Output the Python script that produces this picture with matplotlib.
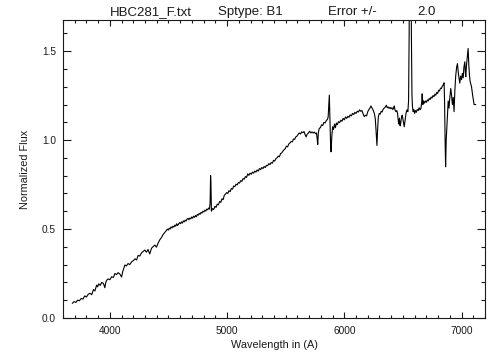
import numpy as np
import matplotlib
matplotlib.use('Agg')
import matplotlib.pyplot as plt
from matplotlib.ticker import MultipleLocator

# spectrum (wavelength in A, normalized flux)
wave = [3680, 3695, 3710, 3725, 3740, 3755, 3770, 3785, 3800, 3815, 3830, 3845,
        3860, 3872, 3887, 3895, 3905, 3918, 3930, 3945, 3957, 3965, 3975, 3986,
        4000, 4015, 4030, 4043, 4057, 4070, 4085, 4100, 4110, 4128, 4140, 4155,
        4170, 4185, 4200, 4215, 4228, 4241, 4255, 4270, 4285, 4298, 4312, 4325,
        4340, 4355, 4370, 4383, 4397, 4412, 4426, 4440, 4455, 4470,
        4482, 4490, 4498, 4506, 4514, 4522, 4530, 4538, 4546, 4554, 4562, 4570,
        4578, 4586, 4594, 4602, 4610, 4618, 4626, 4634, 4642, 4650, 4658, 4666,
        4674, 4682, 4690, 4698, 4706, 4714, 4722, 4730, 4738, 4746, 4754, 4762,
        4770, 4778, 4786, 4794, 4802, 4810, 4818, 4826, 4834, 4842, 4850, 4855,
        4859, 4862, 4866, 4876, 4886, 4896, 4906, 4916, 4926, 4936, 4946, 4956,
        4966, 4976, 4986, 4996, 5006, 5016, 5026, 5036, 5046, 5056, 5066, 5076,
        5086, 5096, 5106, 5116, 5126, 5136, 5146, 5156, 5166, 5176, 5186, 5196,
        5206, 5216, 5226, 5236, 5246, 5256, 5266, 5276, 5286, 5296, 5306, 5316,
        5326, 5336, 5346, 5356, 5366, 5376, 5386, 5396, 5406, 5416, 5426, 5436,
        5446, 5456, 5466, 5476, 5486, 5496, 5506, 5516, 5526, 5536, 5546, 5556,
        5566, 5576, 5586, 5596, 5606, 5616, 5626, 5636, 5646, 5656, 5666, 5674,
        5684, 5694, 5704, 5714, 5724, 5734, 5744, 5754, 5762, 5768, 5773, 5778,
        5786, 5796, 5806, 5816, 5826, 5836, 5846, 5856, 5862, 5868, 5872, 5877,
        5882, 5887, 5893, 5900, 5908, 5916, 5924, 5932, 5940, 5950, 5960, 5970,
        5980, 5990, 6000, 6010, 6020, 6030, 6040, 6050, 6060, 6070, 6080, 6090,
        6100, 6110, 6120, 6130, 6140, 6150, 6160, 6170, 6180, 6190, 6200, 6210,
        6220, 6227, 6236, 6246, 6256, 6264, 6270, 6278, 6284, 6290, 6298, 6306,
        6314, 6322, 6330, 6340, 6350, 6358, 6366, 6374, 6382, 6390, 6398, 6406,
        6414, 6420, 6426, 6432, 6440, 6448, 6454, 6460, 6465, 6470, 6476, 6482,
        6488, 6494, 6500, 6506, 6511, 6518, 6526, 6534, 6542, 6548, 6553, 6557,
        6567, 6572, 6577, 6581, 6587, 6593, 6600, 6606, 6614, 6622, 6630, 6638,
        6646, 6654, 6660, 6664, 6670, 6676, 6684, 6692, 6700, 6708, 6716, 6724,
        6732, 6740, 6748, 6756, 6764, 6772, 6780, 6788, 6796, 6804, 6812, 6820,
        6828, 6836, 6844, 6851, 6855, 6860, 6864, 6869, 6879, 6886, 6893, 6900,
        6908, 6915, 6922, 6929, 6936, 6943, 6950, 6958, 6965, 6972, 6978, 6985,
        6992, 7000, 7007, 7014, 7020, 7028, 7032, 7036, 7042, 7048, 7056, 7062,
        7068, 7073, 7085, 7095, 7107, 7120]
flux = [0.083, 0.092, 0.088, 0.100, 0.097, 0.110, 0.106, 0.124, 0.118, 0.133, 0.139, 0.131,
        0.160, 0.152, 0.185, 0.175, 0.192, 0.183, 0.200, 0.194, 0.170, 0.200, 0.214, 0.220,
        0.215, 0.232, 0.228, 0.250, 0.244, 0.255, 0.247, 0.230, 0.262, 0.298, 0.292, 0.306,
        0.300, 0.316, 0.322, 0.333, 0.326, 0.352, 0.348, 0.366, 0.375, 0.382, 0.370, 0.385,
        0.360, 0.392, 0.402, 0.410, 0.398, 0.422, 0.440, 0.452, 0.470, 0.482,
        0.492, 0.500, 0.494, 0.505, 0.500, 0.512, 0.506, 0.516, 0.511, 0.522, 0.516, 0.530,
        0.520, 0.528, 0.536, 0.530, 0.540, 0.533, 0.546, 0.540, 0.550, 0.545, 0.556, 0.560,
        0.552, 0.562, 0.557, 0.568, 0.561, 0.572, 0.566, 0.576, 0.569, 0.582, 0.578, 0.588,
        0.583, 0.594, 0.590, 0.600, 0.596, 0.606, 0.601, 0.612, 0.608, 0.618, 0.612, 0.650,
        0.800, 0.760, 0.600, 0.615, 0.610, 0.628, 0.622, 0.640, 0.636, 0.655, 0.650, 0.670,
        0.665, 0.690, 0.696, 0.705, 0.700, 0.716, 0.710, 0.728, 0.724, 0.742, 0.738, 0.752,
        0.748, 0.762, 0.758, 0.772, 0.768, 0.784, 0.780, 0.795, 0.790, 0.810, 0.802, 0.814,
        0.808, 0.820, 0.814, 0.826, 0.820, 0.832, 0.826, 0.840, 0.834, 0.846, 0.840, 0.852,
        0.846, 0.858, 0.856, 0.868, 0.862, 0.874, 0.870, 0.886, 0.882, 0.896, 0.900, 0.910,
        0.906, 0.924, 0.928, 0.938, 0.946, 0.952, 0.966, 0.962, 0.978, 0.984, 0.992, 0.990,
        1.006, 1.004, 1.018, 1.022, 1.032, 1.040, 1.034, 1.046, 1.042, 1.048, 1.030, 1.018,
        1.034, 1.040, 1.050, 1.040, 1.046, 1.040, 1.045, 1.036, 1.040, 1.010, 0.975, 1.040,
        1.066, 1.070, 1.086, 1.082, 1.100, 1.096, 1.110, 1.116, 1.130, 1.210, 1.253, 1.120,
        0.990, 0.934, 1.020, 1.075, 1.060, 1.090, 1.070, 1.096, 1.086, 1.104, 1.098, 1.112,
        1.106, 1.122, 1.114, 1.130, 1.122, 1.134, 1.128, 1.142, 1.136, 1.150, 1.144, 1.156,
        1.150, 1.162, 1.158, 1.170, 1.162, 1.166, 1.148, 1.132, 1.140, 1.136, 1.160, 1.172,
        1.182, 1.192, 1.180, 1.168, 1.150, 1.120, 1.060, 0.970, 1.060, 1.130, 1.150, 1.146,
        1.162, 1.158, 1.172, 1.180, 1.186, 1.196, 1.182, 1.186, 1.178, 1.184, 1.176, 1.182,
        1.172, 1.180, 1.192, 1.170, 1.160, 1.166, 1.150, 1.110, 1.090, 1.124, 1.080, 1.100,
        1.130, 1.140, 1.116, 1.090, 1.075, 1.110, 1.150, 1.170, 1.160, 1.220, 1.600, 2.300,
        2.300, 1.600, 1.250, 1.190, 1.160, 1.172, 1.150, 1.166, 1.156, 1.172, 1.166, 1.182,
        1.170, 1.180, 1.215, 1.260, 1.200, 1.220, 1.208, 1.220, 1.212, 1.226, 1.220, 1.234,
        1.228, 1.242, 1.236, 1.250, 1.244, 1.258, 1.252, 1.268, 1.262, 1.280, 1.276, 1.292,
        1.290, 1.304, 1.310, 1.322, 1.220, 0.980, 0.850, 1.000, 1.130, 1.220, 1.180, 1.240,
        1.290, 1.250, 1.200, 1.240, 1.160, 1.280, 1.360, 1.410, 1.430, 1.380, 1.350, 1.320,
        1.360, 1.340, 1.375, 1.350, 1.410, 1.440, 1.380, 1.356, 1.420, 1.460, 1.515, 1.420,
        1.360, 1.330, 1.300, 1.250, 1.200, 1.200]

plt.rcParams['font.family'] = ['Liberation Sans', 'DejaVu Sans']
ink = '#1a1a1a'

fig = plt.figure(figsize=(5.04, 3.6), dpi=100)
ax = fig.add_axes([0.125, 0.1167, 0.8373, 0.8277])
ax.plot(wave, flux, color='black', lw=0.8)

ax.set_xlim(3600, 7200)
ax.set_ylim(0, 1.675)
ax.xaxis.set_major_locator(MultipleLocator(1000))
ax.xaxis.set_minor_locator(MultipleLocator(100))
ax.yaxis.set_major_locator(MultipleLocator(0.5))
ax.yaxis.set_minor_locator(MultipleLocator(0.1))
ax.yaxis.set_major_formatter(lambda v, p: '%.1f' % v)

ax.tick_params(axis='both', which='both', direction='in', top=True, right=True,
               color=ink, width=0.8, labelsize=7.3, labelcolor=ink)
ax.tick_params(axis='x', which='major', length=4.3, pad=6)
ax.tick_params(axis='x', which='minor', length=2.2)
ax.tick_params(axis='y', which='major', length=6, pad=5)
ax.tick_params(axis='y', which='minor', length=3)
for s in ax.spines.values():
    s.set_color(ink)
    s.set_linewidth(0.8)

ax.set_xlabel('Wavelength in (A)', fontsize=7.8, color=ink, labelpad=3)
ax.set_ylabel('Normalized Flux', fontsize=7.8, color=ink, labelpad=9)

# title pieces, spaced like the original
ty = 1 - 12 / 360
fig.text(110 / 504, ty, 'HBC281_F.txt', fontsize=9.5, color=ink, va='center')
fig.text(218 / 504, ty, 'Sptype: B1', fontsize=9.5, color=ink, va='center')
fig.text(328 / 504, ty, 'Error +/-', fontsize=9.5, color=ink, va='center')
fig.text(417 / 504, ty, '2.0', fontsize=9.5, color=ink, va='center')

fig.savefig('out.png', dpi=100)
